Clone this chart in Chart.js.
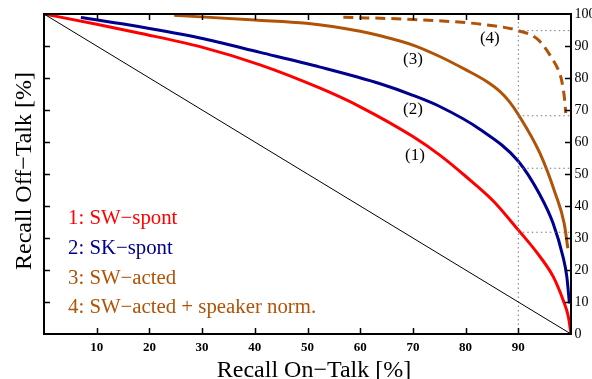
<!DOCTYPE html>
<html><head><meta charset="utf-8">
<script src="https://cdn.jsdelivr.net/npm/chart.js@4/dist/chart.umd.min.js"></script>
<style>html,body{margin:0;padding:0;background:#fff;overflow:hidden}</style>
</head><body>
<canvas id="c" width="592" height="379" style="display:block;width:592px;height:379px"></canvas>
<script>
// ---- data ----
const tickValues = [10, 20, 30, 40, 50, 60, 70, 80, 90];
const yTickLabels = [0, 10, 20, 30, 40, 50, 60, 70, 80, 90, 100];

const diagX = [0, 100];
const diagY = [100, 0];

const spontSWX = [0, 10, 18.2, 29.6, 41, 52.4, 60, 70, 75.1, 80, 85.3, 90, 93.5, 96.6, 98.5, 99.5, 100];
const spontSWY = [100, 96.8, 94, 89.8, 84.1, 76.8, 71, 61.7, 55.9, 49.3, 41.5, 32.5, 25.5, 18, 10.6, 5.4, 0];

const spontSKX = [7, 18.2, 29.6, 41, 52.4, 63.8, 70, 75.1, 82.7, 90, 94.1, 96.6, 98.5, 99.2, 99.7];
const spontSKY = [98.9, 96, 92.5, 88, 83.4, 78.2, 74.6, 71.1, 64, 54, 43.5, 34.6, 24, 18, 9.6];

const actedX = [24.7, 40, 49.8, 60, 63.8, 70, 75, 80, 84, 86.5, 88.3, 90, 94.1, 97, 98.7, 99.4];
const actedY = [99.6, 98.1, 97.1, 94.6, 93.2, 90.3, 86.8, 82.6, 78.9, 75.8, 72.6, 68.6, 56.5, 44, 34.6, 26.8];

const normX = [56.8, 70, 80, 84, 90, 93.8, 96.6, 97.6, 98.2, 98.8, 99.0];
const normY = [99, 98.3, 97.3, 96.6, 94.8, 91.9, 85.6, 82.5, 79.4, 73.1, 69];

const guideX = 90;
const guideY = [94.8, 68.2, 51.8, 31.8];

const legendLabels = ['1: SW\u2212spont', '2: SK\u2212spont', '3: SW\u2212acted', '4: SW\u2212acted + speaker norm.'];
const curveTags = ['(1)', '(2)', '(3)', '(4)'];
const xTitle = 'Recall On\u2212Talk [%]';
const yTitle = 'Recall Off\u2212Talk [%]';

// ---- styles ----
const RED = '#ff0000', BLUE = '#00008f', BROWN = '#b05306';
const SERIF = '"Liberation Serif", "Times New Roman", serif';

const pts = (xs, ys) => xs.map((x, i) => ({ x, y: ys[i] }));
const guidePts = [];
guideY.forEach(y => { guidePts.push({ x: guideX, y }, { x: 100, y }, { x: 100, y: null }); });

const frame = {
  id: 'frame',
  afterDatasetsDraw(chart) {
    const { ctx, chartArea: a, scales: { x, y } } = chart;
    ctx.save();
    ctx.strokeStyle = '#000';
    ctx.lineWidth = 2;
    ctx.strokeRect(a.left, a.top, a.right - a.left, a.bottom - a.top);
    ctx.lineWidth = 1.5;
    ctx.beginPath();
    tickValues.forEach(v => {
      const px = Math.round(x.getPixelForValue(v)) + 0.5;
      ctx.moveTo(px, a.bottom); ctx.lineTo(px, a.bottom - 6);
      ctx.moveTo(px, a.top); ctx.lineTo(px, a.top + 6);
      const py = Math.round(y.getPixelForValue(v)) + 0.5;
      ctx.moveTo(a.left, py); ctx.lineTo(a.left + 6, py);
      ctx.moveTo(a.right, py); ctx.lineTo(a.right - 6, py);
    });
    ctx.stroke();

    // legend text
    const legColors = [RED, BLUE, BROWN, BROWN];
    ctx.font = '20.8px ' + SERIF;
    ctx.textAlign = 'left';
    ctx.textBaseline = 'alphabetic';
    const legBase = [224, 254, 284, 313];
    legendLabels.forEach((t, i) => { ctx.fillStyle = legColors[i]; ctx.fillText(t, 68, legBase[i]); });

    // curve tags
    ctx.fillStyle = '#000';
    ctx.font = '17px ' + SERIF;
    ctx.textAlign = 'center';
    ctx.textBaseline = 'middle';
    const tagPos = [[70.4, 55.9], [70.0, 70.0], [70.0, 85.9], [84.6, 92.2]];
    curveTags.forEach((t, i) => ctx.fillText(t, x.getPixelForValue(tagPos[i][0]), y.getPixelForValue(tagPos[i][1])));

    // axis titles
    ctx.font = '24px ' + SERIF;
    ctx.textAlign = 'center';
    ctx.textBaseline = 'alphabetic';
    ctx.fillText(xTitle, 314, 377);
    ctx.save();
    ctx.translate(31, 171);
    ctx.rotate(-Math.PI / 2);
    ctx.fillText(yTitle, 0, 0);
    ctx.restore();
    ctx.restore();
  }
};

new Chart(document.getElementById('c'), {
  type: 'line',
  data: {
    datasets: [
      { data: pts(diagX, diagY), borderColor: '#000', borderWidth: 1, tension: 0 },
      { data: [{ x: guideX, y: 0 }, { x: guideX, y: 100 }], borderColor: '#777', borderWidth: 1, borderDash: [1.5, 3], tension: 0 },
      { data: guidePts, borderColor: '#777', borderWidth: 1, borderDash: [1.5, 3], tension: 0, spanGaps: false },
      { data: pts(spontSWX, spontSWY), borderColor: RED, borderWidth: 3, cubicInterpolationMode: 'monotone' },
      { data: pts(spontSKX, spontSKY), borderColor: BLUE, borderWidth: 3, cubicInterpolationMode: 'monotone' },
      { data: pts(actedX, actedY), borderColor: BROWN, borderWidth: 3, cubicInterpolationMode: 'monotone' },
      { data: pts(normX, normY), borderColor: BROWN, borderWidth: 3, borderDash: [10, 6], cubicInterpolationMode: 'monotone' }
    ]
  },
  options: {
    responsive: false, animation: false, devicePixelRatio: 1,
    layout: { padding: { left: 44, top: 14, right: 0, bottom: 0 } },
    plugins: { legend: { display: false }, tooltip: { enabled: false } },
    elements: { point: { radius: 0 }, line: { fill: false } },
    scales: {
      x: {
        type: 'linear', min: 0, max: 100, position: 'bottom',
        afterFit(s) { s.height = 45; },
        grid: { display: false, drawTicks: false }, border: { display: false },
        ticks: {
          stepSize: 10, autoSkip: false, maxRotation: 0, padding: 6, color: '#000',
          font: { family: SERIF, size: 13, weight: 'bold' },
          callback: v => tickValues.includes(v) ? String(v) : ''
        }
      },
      y: {
        type: 'linear', min: 0, max: 100, position: 'right',
        afterFit(s) { s.width = 21; },
        grid: { display: false, drawTicks: false }, border: { display: false },
        ticks: {
          stepSize: 10, autoSkip: false, padding: 3.5, color: '#000',
          font: { family: SERIF, size: 14 },
          callback: v => yTickLabels.includes(v) ? String(v) : ''
        }
      }
    }
  },
  plugins: [frame]
});
</script>
</body></html>
